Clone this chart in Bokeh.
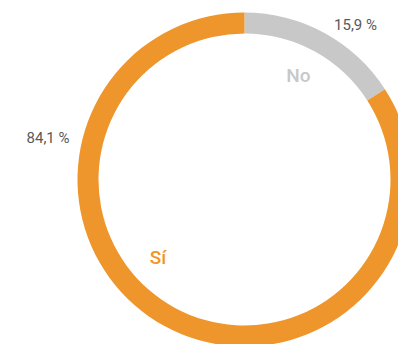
import math
from bokeh.plotting import figure
from bokeh.models import ColumnDataSource
from bokeh.core.properties import value
from bokeh.embed import file_html
from bokeh.resources import INLINE

categories = ["No", "Sí"]
values = [15.9, 84.1]
colors = ["#C8C8C8", "#EE962B"]
pct_labels = ["15,9 %", "84,1 %"]

W, H = 398, 344
cx, cy = 244, 179  # center in figure pixels (from left/top)
p = figure(width=W, height=H, output_backend="svg", toolbar_location=None,
           x_range=(-cx, W - cx), y_range=(-(H - cy), cy),
           min_border=0)
p.axis.visible = False
p.grid.visible = False
p.outline_line_color = None
p.background_fill_color = "white"

total = sum(values)
starts, ends = [], []
a = math.pi / 2
for v in values:
    starts.append(a)
    a -= v / total * 2 * math.pi
    ends.append(a)

src = ColumnDataSource(dict(cat=categories, start=starts, end=ends, color=colors))
p.annular_wedge(x=0, y=0, inner_radius=146, outer_radius=167,
                start_angle="start", end_angle="end", direction="clock",
                fill_color="color", line_color=None, source=src)

# percentage labels
p.text(x=[111, -196.5], y=[155, 42], text=pct_labels,
       text_font=value("Roboto"), text_font_size="15px", text_color="#595959",
       text_align="center", text_baseline="middle")
# category labels
p.text(x=[54, -86.5], y=[104, -78], text=categories,
       text_font=value("Roboto Medium"), text_font_size="19px",
       text_color=colors, text_align="center", text_baseline="middle")

open("out.html", "w").write(file_html(p, INLINE))
